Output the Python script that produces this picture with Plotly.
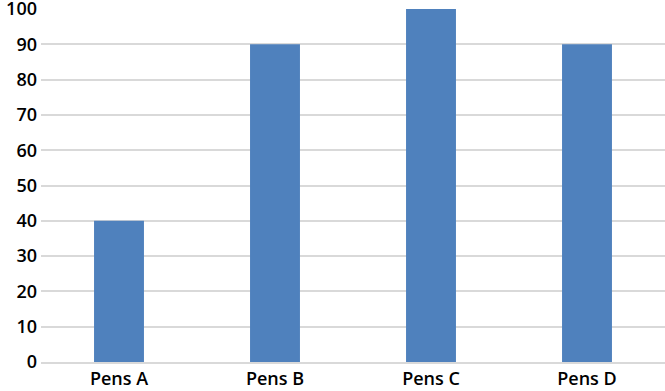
import plotly.graph_objects as go

categories = ["Pens A", "Pens B", "Pens C", "Pens D"]
values = [40, 90, 100, 90]
y_ticks = [0, 10, 20, 30, 40, 50, 60, 70, 80, 90, 100]

fig = go.Figure(go.Bar(x=categories, y=values, marker_color="#4F81BD", marker_line_width=0))

fig.update_layout(
    width=665, height=391,
    margin=dict(l=41, r=0, t=9, b=29, autoexpand=False),
    plot_bgcolor="white", paper_bgcolor="white",
    bargap=0.68,
    showlegend=False,
    font=dict(family="Open Sans, sans-serif", size=18, color="black", weight=600),
)
fig.update_yaxes(range=[0, 100], tickvals=y_ticks, showgrid=True, gridcolor="#D9D9D9",
                 gridwidth=1.5, zeroline=False, showline=False, ticks="", ticklen=0,
                 automargin=False, ticklabelstandoff=3, ticklabeloverflow="allow")
fig.update_xaxes(showline=True, linecolor="#D9D9D9", linewidth=1.5, ticks="", showgrid=False,
                 automargin=False, ticklabeloverflow="allow")

fig.write_html("out.html", config={"displayModeBar": False},
               post_script="document.body.style.margin='0';document.body.style.padding='0';")
